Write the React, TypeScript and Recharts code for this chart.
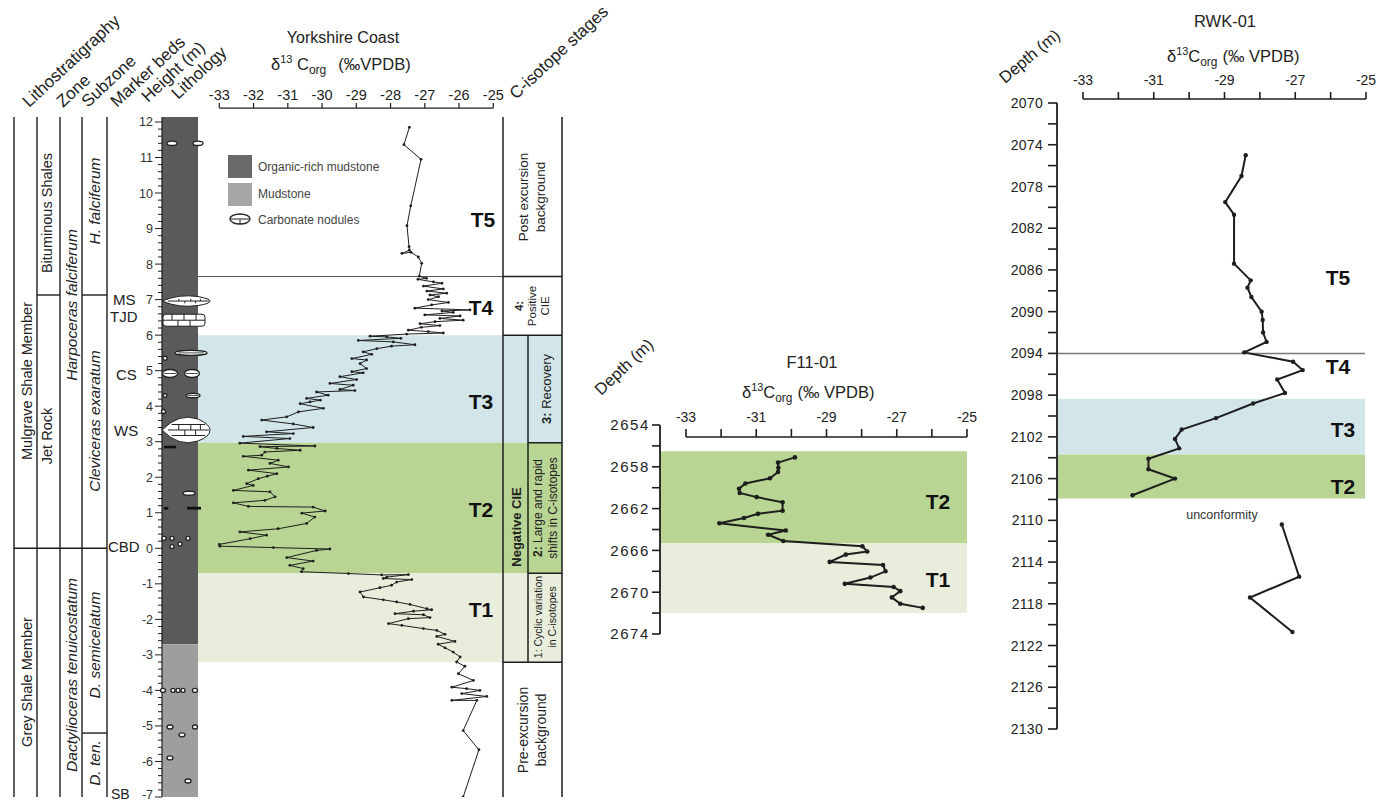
import React from "react";
import { ScatterChart, Scatter, XAxis, YAxis, ReferenceArea, ReferenceLine } from "recharts";

const FONT = '"Liberation Sans", Arial, Helvetica, sans-serif';
const INK = "#1e1e1e";

const BAND_T3 = "#d2e6ea";
const BAND_T2 = "#b9d593";
const BAND_T1 = "#e9eddb";
const LITHO_DARK = "#5a5a5a";
const LITHO_LIGHT = "#9e9e9e";

// δ13Corg axis, shared by the three sections
const D13C_TICKS = [-33, -32, -31, -30, -29, -28, -27, -26, -25];

// Yorkshire Coast: [δ13Corg, height (m)], top to bottom
const YK_POINTS: [number, number][] = [
  [-27.45, 11.85], [-27.61, 11.36], [-27.11, 10.95], [-27.41, 9.64], [-27.52, 9.08],
  [-27.46, 8.49], [-27.45, 8.39], [-27.67, 8.3], [-27.4, 8.33], [-27.19, 8.2],
  [-27.09, 8.02], [-27.16, 7.66], [-26.95, 7.6], [-27.2, 7.57], [-26.75, 7.5],
  [-26.5, 7.46], [-27.04, 7.38], [-26.46, 7.3], [-26.94, 7.24], [-26.36, 7.18],
  [-26.85, 7.13], [-26.6, 7.08], [-26.9, 7.0], [-26.31, 6.92], [-26.8, 6.85],
  [-27.29, 6.76], [-25.68, 6.71], [-26.5, 6.68], [-26.17, 6.64], [-27.0, 6.57],
  [-25.97, 6.54], [-26.56, 6.47], [-25.88, 6.42], [-26.7, 6.38], [-27.14, 6.32],
  [-26.56, 6.27], [-27.1, 6.22], [-27.48, 6.14], [-26.9, 6.1], [-26.46, 6.06],
  [-27.53, 6.03], [-28.6, 5.97], [-28.11, 5.95], [-27.7, 5.91], [-28.94, 5.85],
  [-27.92, 5.81], [-27.29, 5.73], [-27.97, 5.69], [-28.4, 5.62], [-28.8, 5.53],
  [-28.55, 5.46], [-29.13, 5.34], [-28.7, 5.3], [-28.89, 5.2], [-28.7, 5.06],
  [-29.13, 4.97], [-28.8, 4.94], [-29.48, 4.83], [-28.99, 4.75], [-29.77, 4.64],
  [-29.09, 4.59], [-29.48, 4.47], [-29.04, 4.44], [-30.16, 4.4], [-29.82, 4.31],
  [-30.45, 4.22], [-30.05, 4.17], [-30.35, 4.12], [-30.64, 4.07], [-29.96, 3.94],
  [-30.69, 3.84], [-31.03, 3.7], [-31.76, 3.61], [-30.84, 3.5], [-30.26, 3.4],
  [-31.62, 3.28], [-30.84, 3.23], [-32.3, 3.15], [-30.94, 3.09], [-32.4, 2.96],
  [-30.21, 2.88], [-31.81, 2.86], [-31.32, 2.81], [-30.64, 2.76], [-31.67, 2.71],
  [-31.76, 2.62], [-32.3, 2.59], [-31.28, 2.48], [-31.52, 2.39], [-30.98, 2.29],
  [-32.15, 2.2], [-31.32, 2.1], [-31.6, 2.03], [-31.86, 1.96], [-32.2, 1.82],
  [-32.01, 1.77], [-32.59, 1.63], [-31.52, 1.59], [-31.37, 1.45], [-31.67, 1.35],
  [-32.59, 1.28], [-32.15, 1.18], [-30.26, 1.16], [-29.91, 1.05], [-30.59, 0.99],
  [-30.21, 0.88], [-30.45, 0.7], [-31.28, 0.55], [-32.4, 0.46], [-31.62, 0.37],
  [-32.1, 0.27], [-33.0, 0.11], [-32.98, 0.06], [-31.42, 0.02], [-29.77, -0.02],
  [-30.16, -0.06], [-31.03, -0.26], [-30.26, -0.36], [-30.94, -0.48], [-30.55, -0.57],
  [-30.6, -0.66], [-29.23, -0.71], [-28.26, -0.75], [-27.48, -0.74], [-28.11, -0.81],
  [-28.21, -0.85], [-27.38, -0.88], [-27.82, -0.95], [-27.97, -1.04], [-28.31, -1.11],
  [-28.89, -1.23], [-28.79, -1.37], [-28.21, -1.45], [-27.82, -1.51], [-27.43, -1.58],
  [-26.94, -1.7], [-26.8, -1.73], [-27.33, -1.77], [-27.87, -1.84], [-27.04, -1.87],
  [-26.85, -1.95], [-27.48, -1.98], [-28.06, -2.12], [-27.67, -2.17], [-27.04, -2.26],
  [-26.65, -2.31], [-26.41, -2.42], [-26.65, -2.48], [-26.12, -2.62], [-26.61, -2.7],
  [-26.41, -2.8], [-26.17, -2.92], [-25.97, -3.06], [-26.07, -3.2], [-25.83, -3.32],
  [-26.02, -3.53], [-25.58, -3.72], [-26.21, -3.91], [-25.78, -3.95], [-25.39, -4.0],
  [-25.92, -4.09], [-25.19, -4.17], [-26.21, -4.28], [-25.48, -4.28], [-25.88, -5.13],
  [-25.42, -5.67], [-25.88, -7.0],
];

const HEIGHT_LABELS = [-7, -6, -5, -4, -3, -2, -1, 0, 1, 2, 3, 4, 5, 6, 7, 8, 9, 10, 11, 12];

// Yorkshire stage boundaries (height, m)
const YK_T5_T4 = 7.65;
const YK_T4_T3 = 6.0;
const YK_T3_T2 = 2.97;
const YK_T2_T1 = -0.7;
const YK_T1_BASE = -3.21;
const YK_LITHO_CHANGE = -2.7;
const YK_BITUMINOUS_BASE = 7.13;
const YK_MEMBER_BASE = 0;
const YK_DTEN_TOP = -5.2;

// F11-01: [δ13Corg, depth (m)]
const F11_POINTS: [number, number][] = [
  [-29.9, 2657.1], [-30.38, 2657.6], [-30.37, 2658.1], [-30.38, 2658.5], [-30.61, 2659.1],
  [-31.31, 2659.6], [-31.49, 2660.1], [-31.47, 2660.5], [-30.99, 2660.9], [-30.25, 2661.4],
  [-30.25, 2662.2], [-30.95, 2662.5], [-31.35, 2662.9], [-32.05, 2663.4], [-30.16, 2664.1],
  [-30.66, 2664.5], [-30.23, 2665.1], [-27.98, 2665.6], [-27.84, 2666.1], [-28.45, 2666.4],
  [-28.91, 2667.1], [-27.39, 2667.4], [-27.32, 2668.0], [-27.75, 2668.6], [-28.48, 2669.2],
  [-27.09, 2669.5], [-26.9, 2669.9], [-27.14, 2670.5], [-26.9, 2671.1], [-26.26, 2671.5],
];
const F11_DEPTH_TICKS = [2654, 2656, 2658, 2660, 2662, 2664, 2666, 2668, 2670, 2672, 2674];
const F11_T2: [number, number] = [2656.5, 2665.3];
const F11_T1: [number, number] = [2665.3, 2672.0];

// RWK-01: [δ13Corg, depth (m)], above and below the unconformity
const RWK_UPPER: [number, number][] = [
  [-28.4, 2075.0], [-28.52, 2077.0], [-28.98, 2079.5], [-28.73, 2080.7], [-28.73, 2085.4],
  [-28.26, 2087.0], [-28.35, 2087.7], [-28.24, 2088.6], [-27.95, 2090.0], [-27.92, 2090.8],
  [-27.91, 2092.0], [-27.81, 2092.9], [-28.44, 2093.9], [-27.06, 2094.8], [-26.79, 2095.6],
  [-27.51, 2096.5], [-27.29, 2097.8], [-28.19, 2098.8], [-29.24, 2100.2], [-30.21, 2101.3],
  [-30.4, 2102.2], [-30.28, 2103.1], [-31.15, 2104.1], [-31.15, 2105.1], [-30.4, 2106.0],
  [-31.6, 2107.6],
];
const RWK_LOWER: [number, number][] = [
  [-27.38, 2110.4], [-26.89, 2115.4], [-28.28, 2117.4], [-27.08, 2120.7],
];
const RWK_DEPTH_TICKS = [
  2070, 2072, 2074, 2076, 2078, 2080, 2082, 2084, 2086, 2088, 2090, 2092, 2094, 2096, 2098, 2100,
  2102, 2104, 2106, 2108, 2110, 2112, 2114, 2116, 2118, 2120, 2122, 2124, 2126, 2128, 2130,
];
const RWK_T5_T4 = 2094;
const RWK_T3: [number, number] = [2098.35, 2103.7];
const RWK_T2: [number, number] = [2103.7, 2107.9];

// ---------- Yorkshire frame ----------
const YK = { left: 162, right: 562, top: 117, bottom: 797, x33: 219.3, x25: 493.3, hMin: -7, hMax: 12.14, axisH: 12.39 };
const ykK = (YK.x25 - YK.x33) / 8;
const ykV = (px: number) => -33 + (px - YK.x33) / ykK;
const ykY = (h: number) => YK.top + ((YK.hMax - h) * (YK.bottom - YK.top)) / (YK.hMax - YK.hMin);

const heightTicks: number[] = [];
HEIGHT_LABELS.forEach((h, i) => {
  heightTicks.push(h);
  if (i < HEIGHT_LABELS.length - 1) for (let k = 1; k < 5; k++) heightTicks.push(h + k * 0.2);
});

const dot = (r: number) => (p: any) => <circle cx={p.cx} cy={p.cy} r={r} fill={INK} />;

const seg = (key: string, x1: number, x2: number, y1: number, y2: number, stroke = INK, w = 1.5) => (
  <ReferenceLine
    key={key}
    segment={[{ x: x1, y: y1 }, { x: x2, y: y2 }]}
    stroke={stroke}
    strokeWidth={w}
    ifOverflow="visible"
  />
);

const YkXTick = (p: any) => {
  const { x, y, payload } = p;
  return (
    <g>
      <line x1={x} x2={x} y1={y - 9} y2={y - 14} stroke={INK} strokeWidth={1.2} />
      <text x={x} y={y - 17} textAnchor="middle" fontSize={14.5} fill="#222" fontFamily={FONT}>
        {payload.value}
      </text>
    </g>
  );
};

const HeightTick = (p: any) => {
  const { x, y, payload } = p;
  const v = payload.value as number;
  const major = Math.abs(v - Math.round(v)) < 1e-6;
  return (
    <g>
      <line x1={x - (major ? 7 : 4)} x2={x} y1={y} y2={y} stroke={INK} strokeWidth={1} />
      {major && (
        <text x={x - 9} y={Math.min(y + 4.5, 799)} textAnchor="end" fontSize={12.5} fill="#333" fontFamily={FONT}>
          {Math.round(v)}
        </text>
      )}
    </g>
  );
};

function YorkshireChart() {
  const data = YK_POINTS.map(([v, h]) => ({ v, h }));
  const bx1 = ykV(198);
  const sL = ykV(503);
  const sM = ykV(528);
  const sR = ykV(562);
  const strat = [14, 37, 60, 82, 107].map(ykV);
  return (
    <ScatterChart width={570} height={801} margin={{ top: 0, right: 570 - YK.right, bottom: 801 - YK.bottom, left: 0 }}>
      <XAxis
        type="number"
        dataKey="v"
        orientation="top"
        height={YK.top}
        domain={[ykV(YK.left), ykV(YK.right)]}
        ticks={D13C_TICKS}
        interval={0}
        allowDataOverflow
        axisLine={false}
        tickLine={false}
        tickSize={0}
        tickMargin={0}
        tick={YkXTick}
      />
      <YAxis
        type="number"
        dataKey="h"
        width={YK.left}
        domain={[YK.hMin, YK.hMax]}
        ticks={heightTicks}
        interval={0}
        allowDataOverflow
        axisLine={{ stroke: INK, strokeWidth: 1.2 }}
        tickLine={false}
        tickSize={0}
        tickMargin={0}
        tick={HeightTick}
      />
      <ReferenceArea x1={ykV(YK.left)} x2={bx1} y1={YK_LITHO_CHANGE} y2={YK.hMax} fill={LITHO_DARK} fillOpacity={1} ifOverflow="visible" />
      <ReferenceArea x1={ykV(YK.left)} x2={bx1} y1={YK.hMin} y2={YK_LITHO_CHANGE} fill={LITHO_LIGHT} fillOpacity={1} ifOverflow="visible" />
      <ReferenceArea x1={bx1} x2={sR} y1={YK_T3_T2} y2={YK_T4_T3} fill={BAND_T3} fillOpacity={1} ifOverflow="visible" />
      <ReferenceArea x1={bx1} x2={sR} y1={YK_T2_T1} y2={YK_T3_T2} fill={BAND_T2} fillOpacity={1} ifOverflow="visible" />
      <ReferenceArea x1={bx1} x2={sR} y1={YK_T1_BASE} y2={YK_T2_T1} fill={BAND_T1} fillOpacity={1} ifOverflow="visible" />

      {seg("axis", -33, -25, YK.axisH, YK.axisH, INK, 1.3)}
      {seg("t5t4", bx1, sL, YK_T5_T4, YK_T5_T4, "#555", 1)}
      {seg("sl", sL, sL, YK.hMin, YK.hMax)}
      {seg("sr", sR, sR, YK.hMin, YK.hMax)}
      {seg("sm", sM, sM, YK_T1_BASE, YK_T4_T3)}
      {seg("s1", sL, sR, YK_T5_T4, YK_T5_T4)}
      {seg("s2", sL, sR, YK_T4_T3, YK_T4_T3)}
      {seg("s3", sL, sR, YK_T1_BASE, YK_T1_BASE)}
      {seg("s4", sM, sR, YK_T3_T2, YK_T3_T2)}
      {seg("s5", sM, sR, YK_T2_T1, YK_T2_T1)}

      {strat.map((x, i) => seg("v" + i, x, x, YK.hMin, YK.hMax, INK, 1.4))}
      {seg("b1", strat[1], strat[2], YK_BITUMINOUS_BASE, YK_BITUMINOUS_BASE, INK, 1.4)}
      {seg("b2", strat[3], strat[4], YK_BITUMINOUS_BASE, YK_BITUMINOUS_BASE, INK, 1.4)}
      {seg("b3", strat[0], strat[4], YK_MEMBER_BASE, YK_MEMBER_BASE, INK, 1.4)}
      {seg("b4", strat[3], strat[4], YK_DTEN_TOP, YK_DTEN_TOP, INK, 1.4)}

      <Scatter
        data={data}
        line={{ stroke: INK, strokeWidth: 1 }}
        lineType="joint"
        shape={dot(1.4)}
        isAnimationActive={false}
      />
    </ScatterChart>
  );
}

// ---------- core charts ----------
const coreXTick = (tickTop: number, tickBottom: number, labelY: number, every2: boolean) => (p: any) => {
  const { x, y, payload } = p;
  const v = payload.value as number;
  const labelled = !every2 || (v + 33) % 2 === 0;
  return (
    <g>
      <line x1={x} x2={x} y1={y + tickTop} y2={y + tickBottom} stroke={INK} strokeWidth={1.6} />
      {labelled && (
        <text x={x} y={y + labelY} textAnchor="middle" fontSize={14} fill="#222" fontFamily={FONT}>
          {v}
        </text>
      )}
    </g>
  );
};

const depthTick = (start: number, len: number, gap: number, size: number, spacing: number) => (p: any) => {
  const { x, y, payload } = p;
  const v = payload.value as number;
  const labelled = (v - start) % 4 === 0;
  return (
    <g>
      <line x1={x - len} x2={x} y1={y} y2={y} stroke={INK} strokeWidth={1.6} />
      {labelled && (
        <text x={x - gap} y={y + size * 0.36} textAnchor="end" fontSize={size} letterSpacing={spacing} fill="#222" fontFamily={FONT}>
          {v}
        </text>
      )}
    </g>
  );
};

// F11-01 frame: plot 660..967 x 425..634 (page px)
const F11 = { L: 590, T: 340, W: 390, H: 320, left: 660, right: 967, top: 425, bottom: 634, x33: 686 };
const f11K = (F11.right - F11.x33) / 8;
const f11V = (px: number) => -33 + (px - F11.x33) / f11K;
const F11_AXIS_DEPTH = 2655.15;

function F11Chart() {
  const data = F11_POINTS.map(([v, d]) => ({ v, d }));
  const x0 = f11V(F11.left);
  return (
    <ScatterChart
      width={F11.W}
      height={F11.H}
      margin={{ top: 0, left: 0, right: F11.L + F11.W - F11.right, bottom: F11.T + F11.H - F11.bottom }}
    >
      <XAxis
        type="number"
        dataKey="v"
        orientation="top"
        height={F11.top - F11.T}
        domain={[x0, -25]}
        ticks={D13C_TICKS}
        interval={0}
        allowDataOverflow
        axisLine={false}
        tickLine={false}
        tickSize={0}
        tickMargin={0}
        tick={coreXTick(4, 12, -3, true)}
      />
      <YAxis
        type="number"
        dataKey="d"
        reversed
        width={F11.left - F11.L}
        domain={[2654, 2674]}
        ticks={F11_DEPTH_TICKS}
        interval={0}
        allowDataOverflow
        axisLine={{ stroke: INK, strokeWidth: 1.8 }}
        tickLine={false}
        tickSize={0}
        tickMargin={0}
        tick={depthTick(2654, 8, 10, 15, 1.6)}
      />
      <ReferenceArea x1={x0} x2={-25} y1={F11_T2[0]} y2={F11_T2[1]} fill={BAND_T2} fillOpacity={1} ifOverflow="visible" />
      <ReferenceArea x1={x0} x2={-25} y1={F11_T1[0]} y2={F11_T1[1]} fill={BAND_T1} fillOpacity={1} ifOverflow="visible" />
      {seg("f11axis", -33, -25, F11_AXIS_DEPTH, F11_AXIS_DEPTH, INK, 1.6)}
      <Scatter data={data} line={{ stroke: INK, strokeWidth: 2 }} lineType="joint" shape={dot(2.3)} isAnimationActive={false} />
    </ScatterChart>
  );
}

// RWK-01 frame: plot 1057..1366 x 103..729 (page px)
const RWK = { L: 960, T: 0, W: 420, H: 801, left: 1057, right: 1366, top: 103, bottom: 729, x33: 1083 };
const rwkK = (RWK.right - RWK.x33) / 8;
const rwkV = (px: number) => -33 + (px - RWK.x33) / rwkK;
const RWK_AXIS_DEPTH = 2069.62;

function RwkChart() {
  const upper = RWK_UPPER.map(([v, d]) => ({ v, d }));
  const lower = RWK_LOWER.map(([v, d]) => ({ v, d }));
  const x0 = rwkV(RWK.left);
  const x1 = rwkV(1365);
  return (
    <ScatterChart
      width={RWK.W}
      height={RWK.H}
      margin={{ top: 0, left: 0, right: RWK.L + RWK.W - RWK.right, bottom: RWK.T + RWK.H - RWK.bottom }}
    >
      <XAxis
        type="number"
        dataKey="v"
        orientation="top"
        height={RWK.top - RWK.T}
        domain={[x0, -25]}
        ticks={D13C_TICKS}
        interval={0}
        allowDataOverflow
        axisLine={false}
        tickLine={false}
        tickSize={0}
        tickMargin={0}
        tick={coreXTick(-4, -11, -18, true)}
      />
      <YAxis
        type="number"
        dataKey="d"
        reversed
        width={RWK.left - RWK.L}
        domain={[2070, 2130]}
        ticks={RWK_DEPTH_TICKS}
        interval={0}
        allowDataOverflow
        axisLine={{ stroke: INK, strokeWidth: 1.8 }}
        tickLine={false}
        tickSize={0}
        tickMargin={0}
        tick={depthTick(2070, 9, 14, 14, 0.3)}
      />
      <ReferenceArea x1={x0} x2={x1} y1={RWK_T3[0]} y2={RWK_T3[1]} fill={BAND_T3} fillOpacity={1} ifOverflow="visible" />
      <ReferenceArea x1={x0} x2={x1} y1={RWK_T2[0]} y2={RWK_T2[1]} fill={BAND_T2} fillOpacity={1} ifOverflow="visible" />
      {seg("rwkaxis", -33, -25, RWK_AXIS_DEPTH, RWK_AXIS_DEPTH, INK, 1.6)}
      {seg("rwkt5", x0, x1, RWK_T5_T4, RWK_T5_T4, "#7a7a7a", 1.5)}
      <Scatter data={upper} line={{ stroke: INK, strokeWidth: 2 }} lineType="joint" shape={dot(2.2)} isAnimationActive={false} />
      <Scatter data={lower} line={{ stroke: INK, strokeWidth: 2 }} lineType="joint" shape={dot(2.2)} isAnimationActive={false} />
    </ScatterChart>
  );
}

// ---------- text and lithology symbols ----------
type Nodule = { h: number; cx: number; rx: number; ry: number; kind?: "lens" | "bed" | "bar" | "black" };
const NODULES: Nodule[] = [
  { h: 11.4, cx: 172, rx: 5, ry: 2.2 },
  { h: 11.4, cx: 198, rx: 5, ry: 2.2 },
  { h: 6.96, cx: 186, rx: 24, ry: 4.5, kind: "lens" },
  { h: 6.42, cx: 184, rx: 21, ry: 6, kind: "bed" },
  { h: 5.5, cx: 191, rx: 16, ry: 2.5 },
  { h: 5.35, cx: 165, rx: 2, ry: 2 },
  { h: 4.92, cx: 170, rx: 7.5, ry: 4 },
  { h: 4.92, cx: 192, rx: 7.5, ry: 4 },
  { h: 4.3, cx: 193, rx: 7, ry: 2.2 },
  { h: 4.3, cx: 165, rx: 1.8, ry: 1.8 },
  { h: 3.85, cx: 163.5, rx: 2, ry: 2 },
  { h: 3.33, cx: 186, rx: 24, ry: 11, kind: "lens" },
  { h: 2.85, cx: 170, rx: 6, ry: 1.3, kind: "bar" },
  { h: 1.55, cx: 189, rx: 6, ry: 2 },
  { h: 1.13, cx: 166, rx: 2.5, ry: 1.5, kind: "black" },
  { h: 1.13, cx: 194, rx: 7, ry: 1.4, kind: "bar" },
  { h: 0.28, cx: 164, rx: 2, ry: 2 },
  { h: 0.28, cx: 172, rx: 2, ry: 2 },
  { h: 0.05, cx: 172, rx: 2, ry: 2 },
  { h: 0.12, cx: 180, rx: 2, ry: 2 },
  { h: 0.28, cx: 188, rx: 2, ry: 2 },
  { h: -4, cx: 163, rx: 2.5, ry: 2 },
  { h: -4, cx: 173, rx: 2, ry: 2 },
  { h: -4, cx: 178, rx: 2, ry: 2 },
  { h: -4, cx: 183, rx: 2, ry: 2 },
  { h: -4, cx: 195, rx: 2.5, ry: 2 },
  { h: -5.03, cx: 170, rx: 3, ry: 2 },
  { h: -5.03, cx: 195, rx: 2.5, ry: 2 },
  { h: -5.25, cx: 182, rx: 3, ry: 2 },
  { h: -5.9, cx: 170, rx: 3, ry: 2 },
  { h: -6.55, cx: 188, rx: 3, ry: 2 },
];

function NoduleShape({ n }: { n: Nodule }) {
  const cy = ykY(n.h);
  if (n.kind === "bar") return <rect x={n.cx - n.rx} y={cy - n.ry} width={n.rx * 2} height={n.ry * 2} fill="#111" />;
  if (n.kind === "black") return <ellipse cx={n.cx} cy={cy} rx={n.rx} ry={n.ry} fill="#111" />;
  if (n.kind === "bed")
    return (
      <g stroke="#222" strokeWidth={1} fill="#fff">
        <rect x={n.cx - n.rx} y={cy - n.ry} width={n.rx * 2} height={n.ry * 2} rx={3} />
        <line x1={n.cx - n.rx} x2={n.cx + n.rx} y1={cy} y2={cy} />
        {[-12, 0, 12].map((d) => <line key={d} x1={n.cx + d} x2={n.cx + d} y1={cy - n.ry} y2={cy} />)}
        {[-6, 6].map((d) => <line key={d} x1={n.cx + d} x2={n.cx + d} y1={cy} y2={cy + n.ry} />)}
      </g>
    );
  if (n.kind === "lens")
    return (
      <g stroke="#222" strokeWidth={1} fill="#fff">
        <path d={`M ${n.cx - n.rx} ${cy} Q ${n.cx - n.rx * 0.3} ${cy - n.ry * 1.6} ${n.cx + n.rx * 0.5} ${cy - n.ry} Q ${n.cx + n.rx} ${cy - n.ry * 0.5} ${n.cx + n.rx} ${cy} Q ${n.cx + n.rx} ${cy + n.ry * 0.6} ${n.cx + n.rx * 0.5} ${cy + n.ry} Q ${n.cx - n.rx * 0.3} ${cy + n.ry * 1.6} ${n.cx - n.rx} ${cy} Z`} />
        <line x1={n.cx - n.rx * 0.75} x2={n.cx + n.rx * 0.95} y1={cy} y2={cy} />
        {n.ry > 6 && <line x1={n.cx - n.rx * 0.6} x2={n.cx + n.rx * 0.8} y1={cy - n.ry * 0.5} y2={cy - n.ry * 0.5} />}
        {n.ry > 6 && <line x1={n.cx - n.rx * 0.6} x2={n.cx + n.rx * 0.8} y1={cy + n.ry * 0.5} y2={cy + n.ry * 0.5} />}
        {[-0.3, 0.2, 0.6].map((f) => <line key={f} x1={n.cx + n.rx * f} x2={n.cx + n.rx * f} y1={cy - n.ry * 0.5} y2={cy} />)}
        {[-0.05, 0.4].map((f) => <line key={f} x1={n.cx + n.rx * f} x2={n.cx + n.rx * f} y1={cy} y2={cy + n.ry * 0.5} />)}
      </g>
    );
  return (
    <g stroke="#222" strokeWidth={1.3} fill="#fff">
      <ellipse cx={n.cx} cy={cy} rx={n.rx} ry={n.ry} />
      {n.rx > 6 && <line x1={n.cx - n.rx * 0.8} x2={n.cx + n.rx * 0.8} y1={cy} y2={cy} strokeWidth={0.8} />}
    </g>
  );
}

const Rot = ({ x, y, a, size, children, weight, italic, anchor = "start", fill = "#222" }: any) => (
  <text
    transform={`translate(${x},${y}) rotate(${a})`}
    fontSize={size}
    fontWeight={weight}
    fontStyle={italic ? "italic" : undefined}
    textAnchor={anchor}
    dominantBaseline={anchor === "middle" ? "central" : undefined}
    fill={fill}
  >
    {children}
  </text>
);

const Vert = ({ x, y, size, lines, weight, italic, gap = 15 }: any) => (
  <g transform={`translate(${x},${y}) rotate(-90)`}>
    {lines.map((l: any, i: number) => (
      <text
        key={i}
        x={0}
        y={(i - (lines.length - 1) / 2) * gap}
        fontSize={size}
        fontWeight={weight}
        fontStyle={italic ? "italic" : undefined}
        textAnchor="middle"
        dominantBaseline="central"
        fill="#222"
      >
        {l}
      </text>
    ))}
  </g>
);

const Delta = ({ x, y, size = 16, gapBefore = 5 }: any) => (
  <text x={x} y={y} fontSize={size} fill="#222">
    δ<tspan fontSize={size * 0.66} dy={-7}>13</tspan>
    <tspan dy={7}>C</tspan>
    <tspan fontSize={size * 0.72} dy={4}>org</tspan>
    <tspan dy={-4} dx={gapBefore}>(‰ VPDB)</tspan>
  </text>
);

const TLabel = ({ x, y, t }: any) => (
  <text x={x} y={y} fontSize={21} fontWeight="bold" textAnchor="middle" fill="#111">
    {t}
  </text>
);

function Overlay() {
  return (
    <svg width={1389} height={801} style={{ position: "absolute", left: 0, top: 0, pointerEvents: "none" }} fontFamily={FONT}>
      {/* column headers */}
      <Rot x={29} y={108} a={-43} size={17}>Lithostratigraphy</Rot>
      <Rot x={63} y={108} a={-43} size={17}>Zone</Rot>
      <Rot x={88} y={108} a={-43} size={17}>Subzone</Rot>
      <Rot x={117} y={108} a={-43} size={17}>Marker beds</Rot>
      <Rot x={148} y={103} a={-43} size={17}>Height (m)</Rot>
      <Rot x={178} y={100} a={-43} size={17}>Lithology</Rot>
      <Rot x={516} y={100} a={-43} size={17}>C-isotope stages</Rot>

      {/* Yorkshire titles */}
      <text x={343} y={43} fontSize={16} textAnchor="middle" fill="#222">Yorkshire Coast</text>
      <text x={271} y={70} fontSize={16.5} fill="#222">
        δ<tspan fontSize={11} dy={-7}>13</tspan>
        <tspan dy={7}> C</tspan>
        <tspan fontSize={12} dy={4}>org</tspan>
        <tspan dy={-4} dx={12}>(‰VPDB)</tspan>
      </text>

      {/* legend */}
      <rect x={228} y={155} width={24} height={23} fill="#6a6a6a" />
      <rect x={228} y={183} width={24} height={23} fill="#a6a6a6" />
      <ellipse cx={240} cy={219} rx={10} ry={5} fill="#fff" stroke="#222" strokeWidth={1.4} />
      <line x1={231} x2={249} y1={219} y2={219} stroke="#222" strokeWidth={1} />
      <line x1={240} x2={240} y1={219} y2={224} stroke="#222" strokeWidth={1} />
      <text x={258} y={171} fontSize={12} fill="#444">Organic-rich mudstone</text>
      <text x={258} y={198} fontSize={12} fill="#444">Mudstone</text>
      <text x={258} y={224} fontSize={12} fill="#444">Carbonate nodules</text>

      {/* stratigraphic columns */}
      <Vert x={27} y={381} size={14.5} lines={["Mulgrave Shale Member"]} />
      <Vert x={27} y={682} size={14.5} lines={["Grey Shale Member"]} />
      <Vert x={47} y={213} size={14.5} lines={["Bituminous Shales"]} />
      <Vert x={47} y={436} size={14.5} lines={["Jet Rock"]} />
      <Vert x={71} y={305} size={15.5} italic lines={["Harpoceras falciferum"]} />
      <Vert x={71} y={675} size={15.5} italic lines={["Dactylioceras tenuicostatum"]} />
      <Vert x={94} y={201} size={15.5} italic lines={["H. falciferum"]} />
      <Vert x={94} y={421} size={15.5} italic lines={["Cleviceras exaratum"]} />
      <Vert x={94} y={645} size={15.5} italic lines={["D. semicelatum"]} />
      <Vert x={94} y={763} size={15.5} italic lines={["D. ten."]} />

      {/* marker beds */}
      <text x={113} y={305} fontSize={15} fill="#222">MS</text>
      <text x={110} y={322} fontSize={15} fill="#222">TJD</text>
      <text x={116} y={380} fontSize={15} fill="#222">CS</text>
      <text x={114} y={436} fontSize={15} fill="#222">WS</text>
      <text x={108} y={552} fontSize={15} fill="#222">CBD</text>
      <text x={111} y={799} fontSize={14} fill="#222">SB</text>

      {NODULES.map((n, i) => <NoduleShape key={i} n={n} />)}

      {/* stage labels */}
      <TLabel x={483} y={227} t="T5" />
      <TLabel x={481} y={315} t="T4" />
      <TLabel x={481} y={409} t="T3" />
      <TLabel x={481} y={517} t="T2" />
      <TLabel x={481} y={617} t="T1" />

      <Vert x={532} y={197} size={13.5} gap={17} lines={["Post excursion", "background"]} />
      <g transform="translate(532,306) rotate(-90)" fill="#222">
        <text x={0} y={-13} fontSize={11.5} fontWeight="bold" textAnchor="middle" dominantBaseline="central">4:</text>
        <text x={0} y={0} fontSize={11.5} textAnchor="middle" dominantBaseline="central">Positive</text>
        <text x={0} y={13} fontSize={11.5} textAnchor="middle" dominantBaseline="central">CIE</text>
      </g>
      <Vert x={516} y={527} size={13} weight="bold" lines={["Negative CIE"]} />
      <g transform="translate(546,389) rotate(-90)" fill="#222">
        <text x={0} y={0} fontSize={13} textAnchor="middle" dominantBaseline="central">
          <tspan fontWeight="bold">3:</tspan> Recovery
        </text>
      </g>
      <g transform="translate(545,508) rotate(-90)" fill="#222">
        <text x={0} y={-7} fontSize={12} textAnchor="middle" dominantBaseline="central">
          <tspan fontWeight="bold">2:</tspan> Large and rapid
        </text>
        <text x={0} y={8} fontSize={12} textAnchor="middle" dominantBaseline="central">shifts in C-isotopes</text>
      </g>
      <g transform="translate(545,617) rotate(-90)" fill="#222">
        <text x={0} y={-7} fontSize={10.5} textAnchor="middle" dominantBaseline="central">1: Cyclic variation</text>
        <text x={0} y={7} fontSize={10.5} textAnchor="middle" dominantBaseline="central">in C-isotopes</text>
      </g>
      <Vert x={532} y={730} size={14} gap={18} lines={["Pre-excursion", "background"]} />

      {/* F11-01 */}
      <Rot x={601} y={396} a={-43} size={16.5}>Depth (m)</Rot>
      <text x={812} y={368} fontSize={16.5} textAnchor="middle" fill="#222">F11-01</text>
      <Delta x={742} y={398} size={16.5} gapBefore={5} />
      <TLabel x={938} y={509} t="T2" />
      <TLabel x={938} y={587} t="T1" />

      {/* RWK-01 */}
      <Rot x={1005} y={84} a={-40} size={16.5}>Depth (m)</Rot>
      <text x={1225} y={27} fontSize={16.5} textAnchor="middle" fill="#222">RWK-01</text>
      <Delta x={1167} y={62} size={16.5} gapBefore={5} />
      <TLabel x={1338} y={285} t="T5" />
      <TLabel x={1338} y={374} t="T4" />
      <TLabel x={1343} y={437} t="T3" />
      <TLabel x={1343} y={494} t="T2" />
      <text x={1222} y={519} fontSize={12.5} textAnchor="middle" fill="#333">unconformity</text>
    </svg>
  );
}

export default function App() {
  return (
    <div style={{ position: "fixed", left: 0, top: 0, width: 1389, height: 801, background: "#fff", fontFamily: FONT, overflow: "hidden" }}>
      <div style={{ position: "absolute", left: 0, top: 0 }}>
        <YorkshireChart />
      </div>
      <div style={{ position: "absolute", left: F11.L, top: F11.T }}>
        <F11Chart />
      </div>
      <div style={{ position: "absolute", left: RWK.L, top: RWK.T }}>
        <RwkChart />
      </div>
      <Overlay />
    </div>
  );
}
